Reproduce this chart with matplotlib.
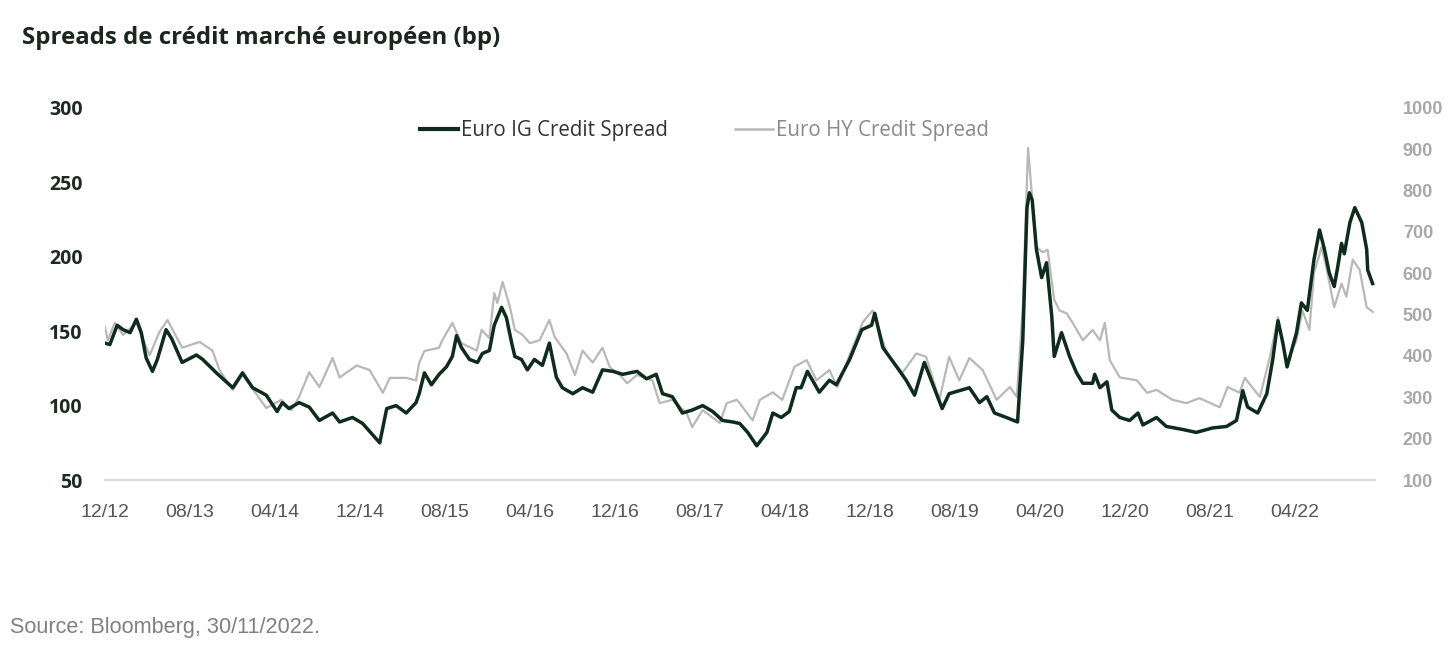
#!/usr/bin/env python3
"""European credit spreads chart (IG vs HY), Bloomberg source."""

import matplotlib

matplotlib.use("Agg")
import matplotlib.dates as mdates
import matplotlib.pyplot as plt
import pandas as pd
from matplotlib.lines import Line2D

# Euro IG credit spread (bp, left axis)
IG_DATES = [
    "2012-12-01", "2012-12-15", "2013-01-05", "2013-01-22", "2013-02-11", "2013-03-01",
    "2013-03-15", "2013-03-29", "2013-04-16", "2013-04-30", "2013-05-25", "2013-06-10",
    "2013-07-10", "2013-08-20", "2013-09-07", "2013-10-16", "2013-12-02", "2013-12-30",
    "2014-01-28", "2014-03-08", "2014-04-08", "2014-04-23", "2014-05-12", "2014-06-10",
    "2014-07-09", "2014-08-07", "2014-09-14", "2014-10-04", "2014-11-10", "2014-12-09",
    "2015-01-27", "2015-02-16", "2015-03-15", "2015-04-13", "2015-05-11", "2015-05-20",
    "2015-06-04", "2015-06-24", "2015-07-16", "2015-08-06", "2015-08-23", "2015-09-04",
    "2015-09-18", "2015-10-11", "2015-11-03", "2015-11-17", "2015-12-07", "2015-12-21",
    "2016-01-11", "2016-01-25", "2016-02-09", "2016-02-18", "2016-03-08", "2016-03-25",
    "2016-04-14", "2016-05-07", "2016-05-27", "2016-06-16", "2016-07-03", "2016-08-02",
    "2016-08-30", "2016-09-28", "2016-10-26", "2016-11-25", "2016-12-23", "2017-02-02",
    "2017-03-01", "2017-03-29", "2017-04-16", "2017-05-14", "2017-06-12", "2017-07-10",
    "2017-08-09", "2017-09-07", "2017-10-05", "2017-11-03", "2017-11-23", "2017-12-16",
    "2018-01-11", "2018-02-09", "2018-02-26", "2018-03-22", "2018-04-14", "2018-05-04",
    "2018-05-18", "2018-06-05", "2018-07-09", "2018-08-07", "2018-08-27", "2018-10-04",
    "2018-11-08", "2018-12-06", "2018-12-15", "2019-01-07", "2019-02-16", "2019-03-15",
    "2019-04-08", "2019-05-06", "2019-05-29", "2019-06-26", "2019-07-16", "2019-08-14",
    "2019-09-12", "2019-10-11", "2019-11-01", "2019-11-23", "2019-12-27", "2020-01-28",
    "2020-02-12", "2020-02-24", "2020-03-02", "2020-03-10", "2020-03-22", "2020-04-06",
    "2020-04-20", "2020-05-05", "2020-05-12", "2020-06-02", "2020-06-25", "2020-07-15",
    "2020-08-02", "2020-08-30", "2020-09-05", "2020-09-20", "2020-10-10", "2020-10-24",
    "2020-11-16", "2020-12-14", "2021-01-07", "2021-01-21", "2021-03-01", "2021-03-29",
    "2021-05-14", "2021-06-23", "2021-08-09", "2021-09-18", "2021-10-16", "2021-11-03",
    "2021-11-17", "2021-12-16", "2022-01-11", "2022-01-28", "2022-02-12", "2022-02-26",
    "2022-03-10", "2022-04-06", "2022-04-20", "2022-05-07", "2022-05-26", "2022-06-11",
    "2022-06-25", "2022-07-09", "2022-07-23", "2022-08-02", "2022-08-13", "2022-08-21",
    "2022-09-06", "2022-09-20", "2022-10-10", "2022-10-24", "2022-10-27", "2022-11-10",
]
IG_VALUES = [
    142, 141, 154, 151, 149, 158,
    149, 132, 123, 131, 151, 145,
    129, 134, 131, 122, 112, 122,
    112, 107, 96, 102, 98, 102,
    99, 90, 95, 89, 92, 88,
    75, 98, 100, 95, 102, 108,
    122, 114, 121, 126, 133, 147,
    139, 131, 129, 135, 137, 154,
    166, 159, 142, 133, 131, 124,
    131, 127, 142, 119, 112, 108,
    112, 109, 124, 123, 121, 123,
    118, 121, 108, 106, 95, 97,
    100, 96, 90, 89, 88, 82,
    73, 82, 95, 92, 96, 112,
    112, 123, 109, 117, 114, 131,
    151, 154, 162, 139, 126, 117,
    107, 129, 115, 98, 108, 110,
    112, 102, 106, 95, 92, 89,
    144, 233, 243, 238, 205, 186,
    196, 160, 133, 149, 133, 122,
    115, 115, 121, 112, 116, 97,
    92, 90, 95, 87, 92, 86,
    84, 82, 85, 86, 90, 110,
    99, 95, 108, 131, 157, 142,
    126, 149, 169, 164, 198, 218,
    205, 189, 180, 193, 209, 202,
    223, 233, 223, 205, 191, 182,
]

# Euro HY credit spread (bp, right axis)
HY_DATES = [
    "2012-12-01", "2012-12-09", "2012-12-29", "2013-01-22", "2013-03-01", "2013-04-08",
    "2013-05-06", "2013-05-29", "2013-07-10", "2013-08-29", "2013-10-05", "2013-10-25",
    "2013-12-02", "2013-12-30", "2014-02-10", "2014-03-08", "2014-04-20", "2014-05-19",
    "2014-06-10", "2014-07-09", "2014-08-07", "2014-09-14", "2014-10-04", "2014-11-22",
    "2014-12-29", "2015-02-05", "2015-02-25", "2015-04-13", "2015-05-11", "2015-05-20",
    "2015-06-04", "2015-07-16", "2015-07-25", "2015-08-23", "2015-09-18", "2015-11-01",
    "2015-11-15", "2015-12-07", "2015-12-21", "2015-12-30", "2016-01-14", "2016-02-04",
    "2016-02-18", "2016-03-11", "2016-04-01", "2016-04-29", "2016-05-27", "2016-06-11",
    "2016-07-15", "2016-08-08", "2016-08-30", "2016-09-28", "2016-10-26", "2016-11-16",
    "2016-12-15", "2017-01-05", "2017-02-02", "2017-03-18", "2017-04-08", "2017-05-14",
    "2017-06-24", "2017-07-10", "2017-08-09", "2017-09-27", "2017-10-17", "2017-11-15",
    "2017-11-23", "2017-12-30", "2018-01-20", "2018-02-26", "2018-03-25", "2018-04-29",
    "2018-06-03", "2018-07-01", "2018-08-07", "2018-08-30", "2018-10-04", "2018-11-11",
    "2018-12-09", "2019-01-19", "2019-03-04", "2019-04-13", "2019-05-11", "2019-06-18",
    "2019-07-16", "2019-08-14", "2019-09-12", "2019-10-20", "2019-11-29", "2020-01-06",
    "2020-01-26", "2020-02-12", "2020-02-27", "2020-03-08", "2020-03-22", "2020-04-09",
    "2020-04-23", "2020-05-12", "2020-05-27", "2020-06-17", "2020-07-04", "2020-08-02",
    "2020-08-30", "2020-09-20", "2020-10-04", "2020-10-18", "2020-11-16", "2021-01-04",
    "2021-02-02", "2021-03-01", "2021-04-16", "2021-05-26", "2021-07-02", "2021-08-29",
    "2021-09-21", "2021-10-25", "2021-11-09", "2021-12-22", "2022-01-20", "2022-02-12",
    "2022-03-08", "2022-04-06", "2022-04-23", "2022-05-13", "2022-05-26", "2022-06-17",
    "2022-07-04", "2022-07-23", "2022-08-13", "2022-08-27", "2022-09-14", "2022-10-04",
    "2022-10-24", "2022-11-10",
]
HY_VALUES = [
    470, 438, 480, 451, 480, 402,
    458, 487, 420, 434, 413, 366,
    318, 354, 305, 274, 294, 269,
    301, 361, 325, 395, 348, 377,
    366, 311, 347, 347, 341, 383,
    412, 420, 438, 480, 431, 413,
    463, 443, 552, 528, 579, 518,
    463, 451, 431, 438, 487, 446,
    406, 354, 413, 384, 420, 373,
    354, 334, 354, 341, 286, 294,
    262, 228, 269, 238, 286, 294,
    286, 244, 294, 312, 294, 374,
    390, 341, 366, 325, 402, 482,
    510, 406, 359, 406, 398, 294,
    398, 341, 395, 366, 294, 325,
    301, 518, 903, 802, 664, 651,
    657, 536, 510, 503, 480, 438,
    463, 438, 480, 390, 348, 341,
    311, 318, 294, 286, 298, 276,
    325, 311, 347, 301, 398, 494,
    383, 438, 510, 463, 600, 664,
    600, 518, 575, 543, 633, 608,
    518, 507,
]

TICK_DATES = pd.date_range("2012-12-01", "2022-04-01", freq="8MS")

TITLE = "Spreads de crédit marché européen (bp)"
SOURCE = "Source: Bloomberg, 30/11/2022."
IG_LABEL = "Euro IG Credit Spread"
HY_LABEL = "Euro HY Credit Spread"

IG_COLOR = "#0e2b1d"
HY_COLOR = "#b8b8b8"

fig = plt.figure(figsize=(14.52, 6.58), dpi=100)
ax = fig.add_axes([0.0723, 0.2705, 0.8747, 0.5655])
ax2 = ax.twinx()
ax.set_zorder(ax2.get_zorder() + 1)
ax.patch.set_visible(False)

ax2.plot(pd.to_datetime(HY_DATES), HY_VALUES, color=HY_COLOR, linewidth=1.6)
ax.plot(pd.to_datetime(IG_DATES), IG_VALUES, color=IG_COLOR, linewidth=2.5)

ax.set_ylim(50, 300)
ax2.set_ylim(100, 1000)
ax.set_xlim(pd.Timestamp("2012-12-01"), pd.Timestamp("2022-11-17"))
ax.set_yticks(range(50, 301, 50))
ax2.set_yticks(range(100, 1001, 100))
ax.set_xticks(TICK_DATES)
ax.xaxis.set_major_formatter(mdates.DateFormatter("%m/%y"))

for a in (ax, ax2):
    for side in ("top", "left", "right", "bottom"):
        a.spines[side].set_visible(False)
ax.spines["bottom"].set_visible(True)
ax.spines["bottom"].set_color("#d9d9d9")
ax.spines["bottom"].set_linewidth(1.5)

ax.tick_params(axis="y", length=0, pad=16, labelsize=14, labelcolor="#1c2a22")
ax.tick_params(axis="x", length=0, pad=17, labelsize=14, labelcolor="#555555")
ax2.tick_params(axis="y", length=0, pad=20, labelsize=13, labelcolor="#a8a8a8")
for lbl in ax.get_yticklabels():
    lbl.set_fontfamily("Open Sans")
    lbl.set_fontweight("bold")
for lbl in ax.get_xticklabels():
    lbl.set_fontfamily("Liberation Sans")
for lbl in ax2.get_yticklabels():
    lbl.set_fontfamily("Liberation Sans")
    lbl.set_fontweight("bold")

handles = [
    Line2D([], [], color=IG_COLOR, linewidth=3),
    Line2D([], [], color=HY_COLOR, linewidth=1.8),
]
leg = ax.legend(
    handles, [IG_LABEL, HY_LABEL], ncol=2, frameon=False,
    loc="center", bbox_to_anchor=(0.472, 0.938),
    handlelength=1.85, handletextpad=0.12, columnspacing=3.3,
    prop={"family": "Open Sans", "size": 14.8},
)
leg.get_texts()[0].set_color("#333333")
leg.get_texts()[1].set_color("#8a8a8a")

fig.text(0.0152, 0.942, TITLE, fontsize=17.3, fontweight="bold",
         family="Open Sans", color="#1b2620", va="center", ha="left")
fig.text(0.007, 0.046, SOURCE, fontsize=15.6, family="Liberation Sans",
         color="#808080", va="center", ha="left")

fig.savefig("out.png", dpi=100)
plt.close(fig)
